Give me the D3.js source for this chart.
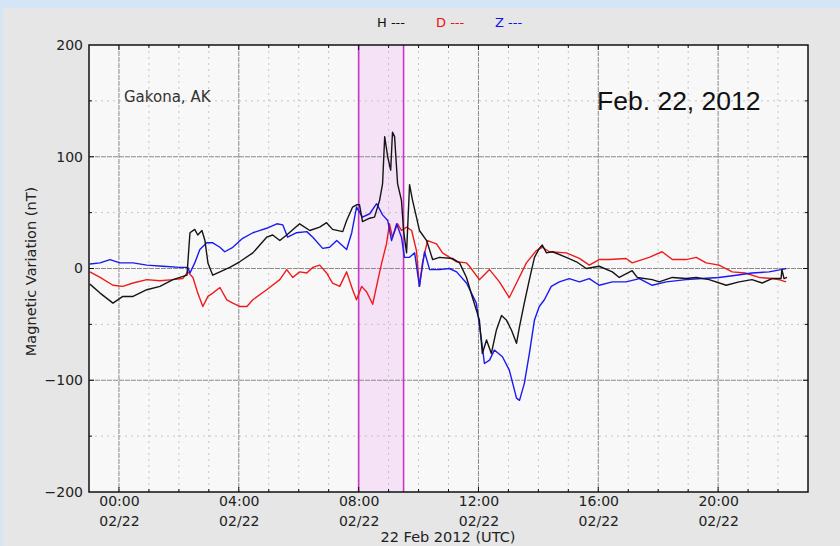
<!DOCTYPE html>
<html><head><meta charset="utf-8">
<script src="https://cdn.jsdelivr.net/npm/d3@7"></script>
<style>
html,body{margin:0;padding:0;background:#d4e6f6;}
svg{display:block;}
</style></head>
<body>
<svg id="c" width="840" height="546" font-family="DejaVu Sans, sans-serif"></svg>
<script>
// Hours after 2012-02-22 00:00 UTC, values in nT
const hTime = [-0.97,-0.63,-0.2,0.13,0.47,0.93,1.37,1.8,2.27,2.37,2.53,2.63,2.77,2.87,2.97,3.13,3.37,3.7,4.03,4.47,4.93,5.13,5.37,5.6,6.03,6.37,6.7,6.93,7.13,7.47,7.6,7.8,7.93,8.03,8.13,8.37,8.53,8.7,8.8,8.87,8.97,9.07,9.13,9.2,9.3,9.43,9.5,9.6,9.7,9.8,9.93,10.03,10.27,10.47,10.7,11.13,11.37,11.6,11.8,12.03,12.13,12.27,12.43,12.6,12.77,12.93,13.1,13.27,13.37,13.53,13.7,13.87,14.03,14.13,14.27,14.47,14.93,15.27,15.6,16.03,16.47,16.7,17.13,17.3,17.8,18.03,18.47,18.93,19.27,19.7,20.27,20.7,21.13,21.47,21.8,22.1,22.13,22.2,22.3];
const hValues = [-14,-22,-31,-25,-25,-19,-16,-10,-6,32,35,30,34,25,5,-6,-3,1,6,14,28,30,25,30,40,34,37,41,35,33,43,55,57,57,42,45,46,61,76,118,100,88,122,118,76,61,34,14,75,61,46,34,25,8,10,9,5,-8,-26,-46,-76,-64,-76,-55,-42,-46,-55,-67,-52,-31,-10,10,18,21,14,15,10,6,0,2,-3,-8,-2,-8,-10,-12,-8,-9,-8,-10,-15,-12,-10,-13,-9,-9,-1,-9,-8];

const dTime = [-0.97,-0.63,-0.2,0.13,0.47,0.93,1.37,1.8,2.13,2.3,2.47,2.63,2.8,2.97,3.13,3.37,3.6,3.8,4.03,4.27,4.47,4.93,5.37,5.6,5.8,6.03,6.27,6.47,6.7,6.93,7.13,7.37,7.6,7.8,7.93,8.1,8.27,8.47,8.63,8.77,8.93,9.03,9.13,9.3,9.43,9.6,9.77,9.93,10.03,10.13,10.3,10.6,10.8,11.27,11.6,11.7,12.03,12.37,12.7,13.03,13.27,13.6,13.93,14.13,14.37,14.93,15.37,15.7,16.03,16.37,16.93,17.13,17.7,18.13,18.47,18.93,19.27,19.6,20.03,20.47,20.9,21.37,21.8,22.03,22.27];
const dValues = [-3,-8,-15,-16,-13,-10,-11,-10,-9,-3,-8,-22,-34,-25,-22,-17,-28,-31,-34,-34,-28,-19,-10,-1,-8,-3,-4,1,3,-4,-13,-16,-3,-19,-28,-16,-21,-32,-12,5,22,40,28,40,34,37,34,16,-16,5,25,22,14,6,5,2,-10,-1,-12,-26,-13,5,16,19,15,14,9,3,8,8,9,5,10,15,8,8,10,5,3,-3,-4,-8,-9,-10,-12];

const zTime = [-0.97,-0.63,-0.3,0.03,0.47,0.93,1.47,2.03,2.3,2.37,2.53,2.7,2.93,3.13,3.37,3.53,3.8,4.13,4.47,4.93,5.27,5.47,5.63,5.93,6.27,6.47,6.8,7.03,7.27,7.6,7.77,7.93,8.13,8.37,8.6,8.8,8.97,9.1,9.27,9.43,9.53,9.7,9.87,10.03,10.2,10.37,10.7,11.03,11.27,11.6,11.93,12.1,12.2,12.37,12.53,12.8,13.03,13.27,13.37,13.53,13.7,13.87,14.03,14.2,14.43,14.7,15.03,15.37,15.7,16.03,16.47,16.93,17.37,17.8,18.27,18.93,19.47,20.03,20.6,21.13,21.7,22.1,22.27];
const zValues = [4,5,8,5,5,3,2,1,1,-4,5,17,23,23,19,15,19,27,32,36,40,39,28,32,33,28,18,19,25,17,32,55,46,49,58,48,43,25,40,28,10,10,14,-16,15,-1,-1,0,-3,-13,-31,-64,-85,-82,-73,-79,-91,-116,-118,-103,-76,-46,-34,-28,-16,-12,-9,-12,-9,-15,-12,-12,-9,-15,-12,-10,-9,-8,-6,-4,-3,-1,0];

const yTicks = [-200,-100,0,100,200];
const eventWindow = [8, 9.5];
const legendItems = [{label:"H ---", color:"#111"},{label:"D ---", color:"#f01010"},{label:"Z ---", color:"#1010f0"}];
const seriesList = [
  {time:dTime, values:dValues, color:"#f01a1a"},
  {time:zTime, values:zValues, color:"#1a1af0"},
  {time:hTime, values:hValues, color:"#151515"}
];

const svg = d3.select("#c");
const base = Date.UTC(2012,1,22);
const toDate = h => new Date(base + h*3600000);

// figure panel
svg.append("rect").attr("x",3).attr("y",8).attr("width",837).attr("height",538).attr("fill","#e6e6e6");

const L=89, R=808, T=45, B=492;
const x = d3.scaleUtc().domain([toDate(-1), toDate(23)]).range([L,R]);
const y = d3.scaleLinear().domain([-200,200]).range([B,T]);

svg.append("rect").attr("x",L).attr("y",T).attr("width",R-L).attr("height",B-T).attr("fill","#f8f8f8");

// shaded window
svg.append("rect").attr("x",x(toDate(eventWindow[0]))).attr("y",T)
  .attr("width",x(toDate(eventWindow[1]))-x(toDate(eventWindow[0]))).attr("height",B-T).attr("fill","#f6e2f6");

// minor grid
const minorX = d3.range(0,23).filter(h=>h%4!==0).map(toDate);
const minorY = [-150,-50,50,150];
const g = svg.append("g");
g.selectAll(".mx").data(minorX).join("line").attr("x1",d=>x(d)).attr("x2",d=>x(d)).attr("y1",T).attr("y2",B)
  .attr("stroke","#c4c4c4").attr("stroke-dasharray","2,4");
g.selectAll(".my").data(minorY).join("line").attr("x1",L).attr("x2",R).attr("y1",d=>y(d)).attr("y2",d=>y(d))
  .attr("stroke","#c4c4c4").attr("stroke-dasharray","2,4");
// major grid
const majorX = d3.range(0,23,4).map(toDate);
g.selectAll(".Mx").data(majorX).join("line").attr("x1",d=>x(d)).attr("x2",d=>x(d)).attr("y1",T).attr("y2",B)
  .attr("stroke","#8a8a8a").attr("stroke-dasharray","5,1");
g.selectAll(".My").data([-100,0,100]).join("line").attr("x1",L).attr("x2",R).attr("y1",d=>y(d)).attr("y2",d=>y(d))
  .attr("stroke","#8a8a8a").attr("stroke-dasharray","5,1");

// window edges
eventWindow.forEach(h=>{
  svg.append("line").attr("x1",x(toDate(h))).attr("x2",x(toDate(h))).attr("y1",T).attr("y2",B)
    .attr("stroke","#c838c8").attr("stroke-width",1.6);
});

// series
const line = d3.line().x(d=>x(toDate(d[0]))).y(d=>y(d[1]));
seriesList.forEach(s=>{
  svg.append("path").datum(s.time.map((t,i)=>[t,s.values[i]]))
    .attr("d",line).attr("fill","none").attr("stroke",s.color).attr("stroke-width",1.4).attr("stroke-linejoin","round");
});

// frame
svg.append("rect").attr("x",L).attr("y",T).attr("width",R-L).attr("height",B-T).attr("fill","none").attr("stroke","#111").attr("stroke-width",1.5);

// ticks (inside)
const allHours = d3.range(0,23).map(toDate);
const tk = svg.append("g").attr("stroke","#111");
allHours.forEach(d=>{
  const len = (d.getUTCHours()%4===0)?5:3;
  tk.append("line").attr("x1",x(d)).attr("x2",x(d)).attr("y1",B).attr("y2",B-len);
  tk.append("line").attr("x1",x(d)).attr("x2",x(d)).attr("y1",T).attr("y2",T+len);
});
d3.range(-150,200,50).forEach(v=>{
  const len = v%100===0?5:3;
  tk.append("line").attr("x1",L).attr("x2",L+len).attr("y1",y(v)).attr("y2",y(v));
  tk.append("line").attr("x1",R).attr("x2",R-len).attr("y1",y(v)).attr("y2",y(v));
});

// y axis labels
const yAxis = d3.axisLeft(y).tickValues(yTicks).tickSize(0).tickPadding(6).tickFormat(d3.format("d"));
const ya = svg.append("g").attr("transform",`translate(${L},0)`).call(yAxis);
ya.select(".domain").remove();
ya.selectAll("text").attr("font-size",14).attr("fill","#222").attr("font-family","DejaVu Sans")
  .text(d=> d<0 ? "\u2212"+Math.abs(d) : d);

// x axis labels
const xAxis = d3.axisBottom(x).tickValues(majorX).tickSize(0).tickPadding(4).tickFormat(d3.utcFormat("%H:%M"));
const xa = svg.append("g").attr("transform",`translate(0,${B})`).call(xAxis);
xa.select(".domain").remove();
xa.selectAll("text").attr("font-size",14).attr("fill","#222").attr("font-family","DejaVu Sans");
xa.selectAll(".tick").append("text").attr("y",34).attr("fill","#222").attr("font-size",14)
  .attr("text-anchor","middle").attr("font-family","DejaVu Sans").text(d=>d3.utcFormat("%m/%d")(d));

svg.append("text").attr("x",448).attr("y",542).attr("text-anchor","middle").attr("font-size",14.5).attr("fill","#222")
  .text("22 Feb 2012 (UTC)");
svg.append("text").attr("transform",`translate(36,${(T+B)/2+3}) rotate(-90)`).attr("text-anchor","middle")
  .attr("font-size",14.5).attr("fill","#222").text("Magnetic Variation (nT)");

// legend
const lg = svg.append("g");
legendItems.forEach((it,i)=>{
  lg.append("text").attr("x",377+i*59).attr("y",27).attr("font-size",13).attr("fill",it.color).text(it.label);
});

svg.append("text").attr("x",124).attr("y",102).attr("font-size",15).attr("fill","#333").text("Gakona, AK");
svg.append("text").attr("x",597).attr("y",110).attr("font-size",26.5).attr("fill","#111")
  .attr("font-family","Liberation Sans, Arial, sans-serif").text("Feb. 22, 2012");
</script>
</body></html>
